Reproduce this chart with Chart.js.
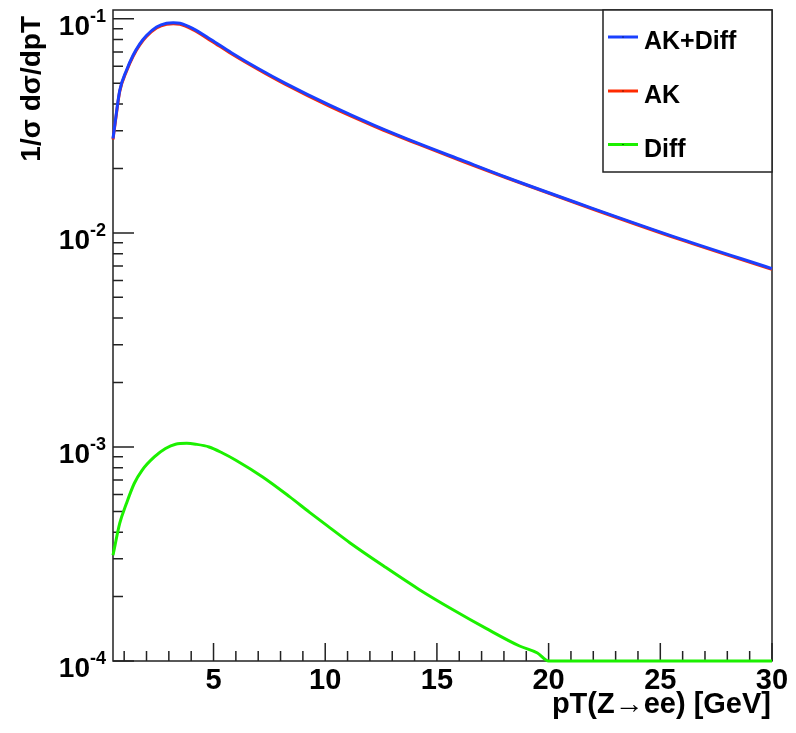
<!DOCTYPE html>
<html>
<head>
<meta charset="utf-8">
<script src="https://cdn.jsdelivr.net/npm/chart.js@4.4.0/dist/chart.umd.min.js"></script>
<style>
  html, body { margin: 0; padding: 0; background: #fff; }
</style>
</head>
<body>
<canvas id="ptChart" width="796" height="733"></canvas>
<script>
// pT grid and values
const ptAK = [0.5, 0.6, 0.8, 1.1, 1.4, 1.7, 2.0, 2.45, 2.9, 3.2, 3.5, 4.1, 4.9, 5.8, 7.0, 8.2, 10.2, 12.2, 14.2, 16.2, 18.1, 21.9, 25.9, 30];
const akDiff = [0.0276, 0.0331, 0.0462, 0.0574, 0.0676, 0.0764, 0.0836, 0.0916, 0.0954, 0.0959, 0.0954, 0.0898, 0.0798, 0.0695, 0.0586, 0.0501, 0.0395, 0.0318, 0.0261, 0.0217, 0.0182, 0.0131, 0.00938, 0.00681];
const ak = [0.0273, 0.0327, 0.0457, 0.0568, 0.0669, 0.0756, 0.0827, 0.0906, 0.0944, 0.0949, 0.0944, 0.0888, 0.0789, 0.0687, 0.0580, 0.0495, 0.0390, 0.0315, 0.0259, 0.0215, 0.0181, 0.0130, 0.00930, 0.00675];

const ptDiff = [0.5, 0.8, 1.1, 1.45, 1.8, 2.35, 2.85, 3.3, 3.8, 4.2, 4.8, 5.4, 6.0, 7.2, 8.4, 9.3, 10.2, 11.1, 12.7, 14.2, 15.7, 17.2, 18.7, 19.5, 20.0, 25, 30];
const diff = [3.12e-4, 4.39e-4, 5.44e-4, 6.75e-4, 7.78e-4, 8.98e-4, 9.83e-4, 1.03e-3, 1.04e-3, 1.03e-3, 1.0e-3, 9.37e-4, 8.67e-4, 7.24e-4, 5.86e-4, 4.95e-4, 4.20e-4, 3.57e-4, 2.74e-4, 2.16e-4, 1.74e-4, 1.42e-4, 1.175e-4, 1.09e-4, 1.0e-4, 1.0e-4, 1.0e-4];

const seriesNames = ['AK+Diff', 'AK', 'Diff'];
const seriesColors = ['#1a40ff', '#ff2a00', '#1cf000'];

const xMajor = [5, 10, 15, 20, 25, 30];
const xLabels = ['5', '10', '15', '20', '25', '30'];
const yDecades = [1e-4, 1e-3, 1e-2, 1e-1];
const yExponents = ['-4', '-3', '-2', '-1'];

const xTitle = 'pT(Z\u2192ee) [GeV]';
const yTitle = '1/\u03c3 d\u03c3/dpT';

function toPoints(xs, ys) {
    return xs.map((x, i) => ({ x: x, y: ys[i] }));
}

const FONT = '"Liberation Sans", Arial, Helvetica, sans-serif';

// ROOT-style frame: ticks inside, labels, titles and legend box
const rootFrame = {
    id: 'rootFrame',
    beforeDatasetsDraw(chart) {
        const ctx = chart.ctx;
        const a = chart.chartArea;
        const xs = chart.scales.x;
        const ys = chart.scales.y;
        ctx.save();
        ctx.strokeStyle = '#222';
        ctx.lineWidth = 1.5;
        ctx.strokeRect(a.left, a.top, a.right - a.left, a.bottom - a.top);

        ctx.beginPath();
        // x ticks at every integer, major every 5
        for (let v = 1; v <= 30; v++) {
            const px = xs.getPixelForValue(v);
            const len = (v % 5 === 0) ? 18 : 10;
            ctx.moveTo(px, a.bottom);
            ctx.lineTo(px, a.bottom - len);
        }
        // y ticks: decades long, 2..9 short
        for (let e = -4; e <= -1; e++) {
            for (let m = 1; m <= 9; m++) {
                const v = m * Math.pow(10, e);
                if (v > ys.max) break;
                const py = ys.getPixelForValue(v);
                const len = (m === 1) ? 21 : 10;
                ctx.moveTo(a.left, py);
                ctx.lineTo(a.left + len, py);
            }
        }
        ctx.stroke();
        ctx.restore();
    },
    afterDatasetsDraw(chart) {
        const ctx = chart.ctx;
        const a = chart.chartArea;
        const xs = chart.scales.x;
        const ys = chart.scales.y;
        ctx.save();
        ctx.fillStyle = '#000';

        // x tick labels
        ctx.font = 'bold 29px ' + FONT;
        ctx.textAlign = 'center';
        ctx.textBaseline = 'middle';
        xMajor.forEach((v, i) => {
            ctx.fillText(xLabels[i], xs.getPixelForValue(v), 681);
        });

        // y tick labels 10^n
        yDecades.forEach((v, i) => {
            const py = ys.getPixelForValue(v);
            ctx.font = 'bold 18px ' + FONT;
            const ew = ctx.measureText(yExponents[i]).width;
            ctx.textAlign = 'right';
            ctx.textBaseline = 'middle';
            ctx.fillText(yExponents[i], 106, py - 2);
            ctx.font = 'bold 28px ' + FONT;
            ctx.fillText('10', 106 - ew, py + 8);
        });

        // axis titles
        ctx.font = 'bold 29px ' + FONT;
        ctx.textAlign = 'right';
        ctx.textBaseline = 'alphabetic';
        ctx.fillText(xTitle, 771, 713);

        ctx.save();
        ctx.translate(40, 16);
        ctx.rotate(-Math.PI / 2);
        ctx.font = 'bold 28px ' + FONT;
        ctx.textAlign = 'right';
        ctx.fillText(yTitle, 0, 0);
        ctx.restore();

        // legend box
        const lx = 603, ly = a.top, lw = a.right - 603, lh = 162;
        ctx.fillStyle = '#fff';
        ctx.fillRect(lx, ly, lw, lh);
        ctx.strokeStyle = '#222';
        ctx.lineWidth = 1.5;
        ctx.strokeRect(lx, ly, lw, lh);
        const rowY = [37, 91, 144.5];
        chart.data.datasets.forEach((ds, i) => {
            ctx.strokeStyle = ds.borderColor;
            ctx.lineWidth = 3;
            ctx.beginPath();
            ctx.moveTo(608, rowY[i]);
            ctx.lineTo(638, rowY[i]);
            ctx.stroke();
            ctx.fillStyle = '#000';
            ctx.fillRect(622.5, rowY[i] - 0.5, 1, 1);
            ctx.font = 'bold 25px ' + FONT;
            ctx.textAlign = 'left';
            ctx.textBaseline = 'alphabetic';
            ctx.fillText(ds.label, 644, rowY[i] + 12);
        });
        ctx.restore();
    }
};

const ptCtx = document.getElementById('ptChart').getContext('2d');

const ptConfig = {
    type: 'line',
    data: {
        datasets: [
            { label: seriesNames[0], data: toPoints(ptAK, akDiff), borderColor: seriesColors[0] },
            { label: seriesNames[1], data: toPoints(ptAK, ak), borderColor: seriesColors[1] },
            { label: seriesNames[2], data: toPoints(ptDiff, diff), borderColor: seriesColors[2] }
        ]
    },
    options: {
        responsive: false,
        animation: false,
        devicePixelRatio: 1,
        layout: { padding: { left: 113, right: 24, top: 10, bottom: 72 } },
        elements: {
            point: { radius: 0 },
            line: { borderWidth: 3, fill: false, cubicInterpolationMode: 'monotone' }
        },
        datasets: { line: { clip: false } },
        plugins: {
            legend: { display: false },
            tooltip: { enabled: false }
        },
        scales: {
            x: { type: 'linear', min: 0.5, max: 30, display: false },
            y: { type: 'logarithmic', min: 1e-4, max: 0.11, display: false }
        }
    },
    plugins: [rootFrame]
};

const ptChart = new Chart(ptCtx, ptConfig);
</script>
</body>
</html>
